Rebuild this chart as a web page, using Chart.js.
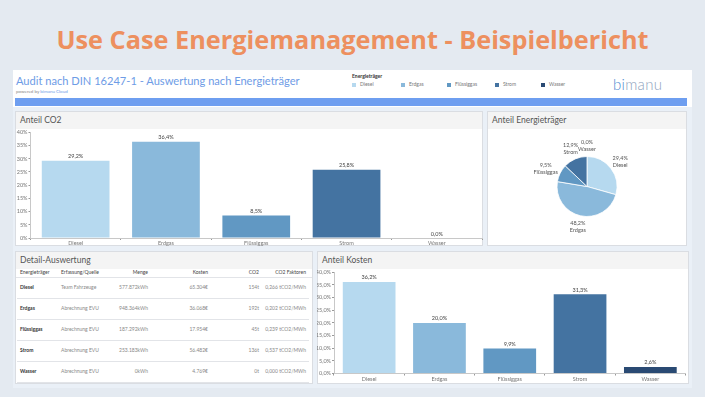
<!DOCTYPE html>
<html>
<head>
<meta charset="utf-8">
<script src="https://cdn.jsdelivr.net/npm/chart.js@4.4.0/dist/chart.umd.min.js"></script>
<style>
html, body { margin: 0; padding: 0; }
body { width: 705px; height: 397px; background: #E4EAF1; position: relative; overflow: hidden; font-family: Lato, sans-serif; }
.abs { position: absolute; }
#title { left: 0; top: 22px; width: 705px; text-align: center; font-family: 'Open Sans', sans-serif; font-weight: 700; font-size: 25.3px; line-height: 34px; color: #ED905F; }
#dash { left: 13px; top: 70px; width: 679px; height: 318px; background: #EAF0F7; }
#head { left: 13px; top: 70px; width: 679px; height: 37px; background: #fff; }
#bluebar { left: 15px; top: 98px; width: 672px; height: 8px; background: #6E9EF0; }
#audit { left: 16px; top: 74px; font-size: 11.1px; color: #6E9CE6; white-space: nowrap; }
#powered { left: 16px; top: 89px; font-size: 4.5px; color: #888; white-space: nowrap; }
#powered span { color: #6E9CE6; }
#legtitle { left: 352px; top: 73px; font-size: 5px; color: #333; font-weight: 700; }
.legitem { top: 81px; font-size: 5px; color: #777; white-space: nowrap; line-height: 6px; }
.legitem i { display: inline-block; width: 4px; height: 4px; margin-right: 4px; vertical-align: -0.5px; }
#logo { left: 613px; top: 75px; font-size: 15px; font-weight: 300; color: #8FA3BD; letter-spacing: 0.3px; }
#logo span { color: #4F8BD0; }
.panel { background: #fff; border: 1px solid #DADDE2; box-sizing: border-box; }
.ptitle { position: absolute; left: 0; top: 0; right: 0; height: 17px; background: #F4F4F4; font-size: 8.5px; color: #555; padding-left: 4px; line-height: 17px; }
.cell { position: absolute; font-size: 5px; line-height: 7px; white-space: nowrap; color: #888; }
.hcell { color: #444; }
.first { color: #333; font-weight: 700; }
.rowline { position: absolute; height: 1px; background: #E2E4E8; }
</style>
</head>
<body>
<div id="title" class="abs">Use Case Energiemanagement - Beispielbericht</div>
<div id="dash" class="abs"></div>
<div id="head" class="abs"></div>
<div id="bluebar" class="abs"></div>
<div id="audit" class="abs">Audit nach DIN 16247-1 - Auswertung nach Energieträger</div>
<div id="powered" class="abs">powered by <span>bimanu Cloud</span></div>
<div id="legtitle" class="abs">Energieträger</div>
<div id="legend"></div>
<div id="logo" class="abs"><span>bi</span>manu</div>

<div class="abs panel" style="left:15px;top:111px;width:468px;height:135px;"><div class="ptitle">Anteil CO2</div></div>
<div class="abs panel" style="left:487px;top:111px;width:200px;height:135px;"><div class="ptitle">Anteil Energieträger</div></div>
<div class="abs panel" style="left:15px;top:251px;width:298px;height:133px;"><div class="ptitle">Detail-Auswertung</div></div>
<div class="abs panel" style="left:317px;top:251px;width:372px;height:133px;"><div class="ptitle">Anteil Kosten</div></div>

<canvas id="co2" class="abs" width="468" height="118" style="left:15px;top:128px;"></canvas>
<canvas id="pie" class="abs" width="198" height="117" style="left:488px;top:128px;"></canvas>
<canvas id="cost" class="abs" width="371" height="116" style="left:317px;top:268px;"></canvas>
<div id="table"></div>

<script>
// Data
const categories = ['Diesel', 'Erdgas', 'Flüssiggas', 'Strom', 'Wasser'];
const colors = ['#B6D9EF', '#8AB9DB', '#6198C3', '#4473A1', '#2A4A73'];
const co2Share = [29.2, 36.4, 8.5, 25.8, 0.0];
const costShare = [36.2, 20.0, 9.9, 31.3, 2.6];
const carrierShare = [29.4, 48.2, 9.5, 12.9, 0.0];

const tableHeader = ['Energieträger', 'Erfassung/Quelle', 'Menge', 'Kosten', 'CO2', 'CO2 Faktoren'];
const sources = ['Team Fahrzeuge', 'Abrechnung EVU', 'Abrechnung EVU', 'Abrechnung EVU', 'Abrechnung EVU'];
const amounts = ['577.872kWh', '948.364kWh', '187.292kWh', '253.183kWh', '0kWh'];
const costs = ['65.304€', '36.068€', '17.954€', '56.482€', '4.769€'];
const co2Tons = ['154t', '192t', '45t', '136t', '0t'];
const co2Factors = ['0,266 tCO2/MWh', '0,202 tCO2/MWh', '0,239 tCO2/MWh', '0,537 tCO2/MWh', '0,000 tCO2/MWh'];

function fmt(v, d) {
  return v.toFixed(d).replace('.', ',') + '%';
}

// Legend in header
const legendX = [352, 401, 447, 495, 541];
let legendHtml = '';
categories.forEach((c, i) => {
  legendHtml += '<div class="abs legitem" style="left:' + legendX[i] + 'px"><i style="background:' + colors[i] + '"></i>' + c + '</div>';
});
document.getElementById('legend').innerHTML = legendHtml;

// Table
const cols = [
  { left: 20, align: 'left' },
  { left: 61, align: 'left' },
  { right: 148, align: 'right' },
  { right: 208, align: 'right' },
  { right: 259, align: 'right' },
  { right: 306, align: 'right' }
];
function cellHtml(text, col, y, cls) {
  const pos = col.align === 'left' ? 'left:' + col.left + 'px;' : 'right:' + (705 - col.right) + 'px;';
  return '<div class="cell ' + cls + '" style="' + pos + 'top:' + (y - 3.5) + 'px">' + text + '</div>';
}
let tableHtml = '';
tableHeader.forEach((t, j) => { tableHtml += cellHtml(t, cols[j], 272.5, 'hcell'); });
tableHtml += '<div class="rowline" style="left:16px;width:296px;top:277px"></div>';
categories.forEach((c, i) => {
  const y = 287.5 + i * 21;
  const row = [c, sources[i], amounts[i], costs[i], co2Tons[i], co2Factors[i]];
  row.forEach((t, j) => { tableHtml += cellHtml(t, cols[j], y, j === 0 ? 'first' : ''); });
  tableHtml += '<div class="rowline" style="left:17px;width:292px;top:' + (y + 10) + 'px"></div>';
});
document.getElementById('table').innerHTML = tableHtml;

// Charts
Chart.defaults.font.family = 'Lato';
Chart.defaults.animation = false;

const barLabels = {
  id: 'barLabels',
  afterDatasetsDraw(chart, args, opts) {
    const ctx = chart.ctx;
    const meta = chart.getDatasetMeta(0);
    const data = chart.data.datasets[0].data;
    ctx.save();
    ctx.font = '5.5px Lato';
    ctx.fillStyle = '#444';
    ctx.textAlign = 'center';
    ctx.textBaseline = 'bottom';
    meta.data.forEach((bar, i) => {
      ctx.fillText(fmt(data[i], 1), bar.x, bar.y - 1.5);
    });
    ctx.restore();
  }
};

const pieLabels = {
  id: 'pieLabels',
  afterDatasetsDraw(chart) {
    const ctx = chart.ctx;
    const meta = chart.getDatasetMeta(0);
    const data = chart.data.datasets[0].data;
    ctx.save();
    ctx.font = '5.5px Lato';
    ctx.fillStyle = '#555';
    ctx.textAlign = 'center';
    ctx.textBaseline = 'middle';
    meta.data.forEach((arc, i) => {
      const mid = (arc.startAngle + arc.endAngle) / 2;
      const l1 = fmt(data[i], 1);
      const l2 = chart.data.labels[i];
      const w = Math.max(ctx.measureText(l1).width, ctx.measureText(l2).width);
      const r = arc.outerRadius + 4;
      const cx = arc.x + Math.cos(mid) * (r + w / 2);
      const cy = arc.y + Math.sin(mid) * (r + 7);
      ctx.fillText(l1, cx, cy - 3.5);
      ctx.fillText(l2, cx, cy + 3.5);
    });
    ctx.restore();
  }
};

function barChart(id, values, yWidth, xHeight, padTop, padRight, decimals) {
  return new Chart(document.getElementById(id), {
    type: 'bar',
    data: {
      labels: categories,
      datasets: [{ data: values, backgroundColor: colors, barPercentage: 0.75, categoryPercentage: 1 }]
    },
    options: {
      responsive: false,
      layout: { padding: { top: padTop, right: padRight, left: 0, bottom: 0 } },
      plugins: { legend: { display: false }, tooltip: { enabled: false } },
      scales: {
        x: {
          grid: { offset: true, drawOnChartArea: false, drawTicks: true, tickLength: 2, color: '#999' },
          border: { display: true, color: '#C8C8C8' },
          ticks: { padding: 0, color: '#777', font: { size: 5.5 }, maxRotation: 0, autoSkip: false },
          afterFit(s) { s.height = xHeight; }
        },
        y: {
          min: 0, max: 40,
          grid: { drawOnChartArea: false, drawTicks: true, tickLength: 2, color: '#999' },
          border: { display: true, color: '#C8C8C8' },
          ticks: { stepSize: 5, padding: 1, color: '#777', font: { size: 5.5 }, callback: v => fmt(v, decimals) },
          afterFit(s) { s.width = yWidth; }
        }
      }
    },
    plugins: [barLabels]
  });
}

barChart('co2', co2Share, 15.5, 8, 3, 1, 0);
barChart('cost', costShare, 17, 10.5, 2, 2.5, 1);

new Chart(document.getElementById('pie'), {
  type: 'pie',
  data: {
    labels: categories,
    datasets: [{ data: carrierShare, backgroundColor: colors, borderColor: '#fff', borderWidth: 0.8 }]
  },
  options: {
    responsive: false,
    radius: 30,
    plugins: { legend: { display: false }, tooltip: { enabled: false } }
  },
  plugins: [pieLabels]
});
</script>
</body>
</html>
